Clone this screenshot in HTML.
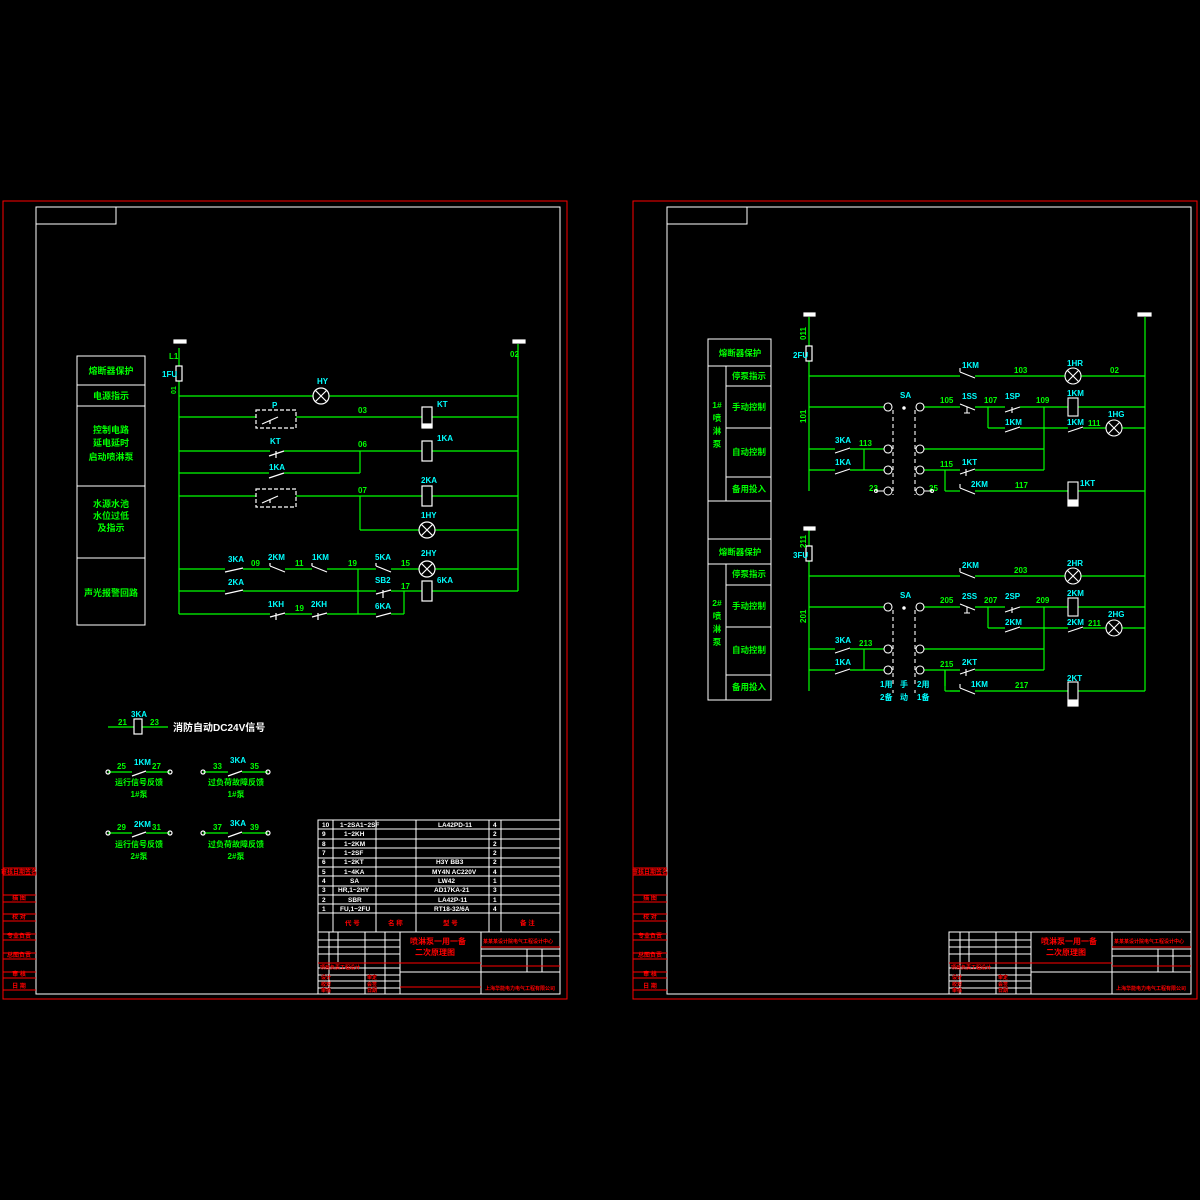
<!DOCTYPE html>
<html><head><meta charset="utf-8"><style>
html,body{margin:0;padding:0;background:#000;}
svg{display:block}
text{font-family:"Liberation Sans","Noto Sans CJK SC",sans-serif;font-weight:bold}
.g{fill:#00ff00}.c{fill:#00ffff}.w{fill:#fff}.r{fill:#ff0000}
</style></head><body>
<svg width="1200" height="1200" viewBox="0 0 1200 1200" xmlns="http://www.w3.org/2000/svg">
<rect width="1200" height="1200" fill="#000"/>
<!-- LEFT SHEET frames -->
<g fill="none" stroke-width="1">
<rect x="3" y="201" width="564" height="798" stroke="#f00"/>
<rect x="36" y="207" width="524" height="787" stroke="#fff"/>
<rect x="36" y="207" width="80" height="17" stroke="#fff"/>
<line x1="3" y1="868" x2="36" y2="868" stroke="#f00"/>
<line x1="3" y1="875" x2="36" y2="875" stroke="#f00"/>
<line x1="3" y1="895" x2="36" y2="895" stroke="#f00"/>
<line x1="3" y1="902" x2="36" y2="902" stroke="#f00"/>
<line x1="3" y1="914" x2="36" y2="914" stroke="#f00"/>
<line x1="3" y1="921" x2="36" y2="921" stroke="#f00"/>
<line x1="3" y1="934" x2="36" y2="934" stroke="#f00"/>
<line x1="3" y1="940" x2="36" y2="940" stroke="#f00"/>
<line x1="3" y1="953" x2="36" y2="953" stroke="#f00"/>
<line x1="3" y1="959" x2="36" y2="959" stroke="#f00"/>
<line x1="3" y1="972" x2="36" y2="972" stroke="#f00"/>
<line x1="3" y1="978" x2="36" y2="978" stroke="#f00"/>
<line x1="3" y1="990" x2="36" y2="990" stroke="#f00"/>
</g>
<g font-size="6" class="r" text-anchor="middle">
<text x="19" y="874">审核日期签名</text><text x="19" y="900">描 图</text><text x="19" y="919">校 对</text><text x="19" y="938">专业负责</text><text x="19" y="957">总图负责</text><text x="19" y="976">审 核</text><text x="19" y="988">日 期</text>
</g>

<!-- left function table -->
<g fill="none" stroke="#fff">
<rect x="77" y="356" width="68" height="269"/>
<line x1="77" y1="385" x2="145" y2="385"/><line x1="77" y1="406" x2="145" y2="406"/>
<line x1="77" y1="486" x2="145" y2="486"/><line x1="77" y1="558" x2="145" y2="558"/>
</g>
<g class="g" font-size="9" text-anchor="middle">
<text x="111" y="374">熔断器保护</text><text x="111" y="399">电源指示</text>
<text x="111" y="433">控制电路</text><text x="111" y="446">延电延时</text><text x="111" y="460">启动喷淋泵</text>
<text x="111" y="507">水源水池</text><text x="111" y="519">水位过低</text><text x="111" y="531">及指示</text>
<text x="111" y="596">声光报警回路</text>
</g>

<!-- left circuit -->
<g stroke="#00ff00" stroke-width="1.2" fill="none">
<line x1="179" y1="348" x2="179" y2="366"/><line x1="179" y1="381" x2="179" y2="614"/>
<line x1="518" y1="344" x2="518" y2="591"/>
<line x1="179" y1="396" x2="313" y2="396"/><line x1="329" y1="396" x2="518" y2="396"/>
<line x1="179" y1="417" x2="256" y2="417"/><line x1="296" y1="417" x2="422" y2="417"/><line x1="432" y1="417" x2="518" y2="417"/>
<line x1="179" y1="451" x2="270" y2="451"/><line x1="284" y1="451" x2="422" y2="451"/><line x1="432" y1="451" x2="518" y2="451"/>
<line x1="179" y1="473" x2="269" y2="473"/><line x1="284" y1="473" x2="360" y2="473"/><line x1="360" y1="451" x2="360" y2="473"/>
<line x1="179" y1="496" x2="256" y2="496"/><line x1="296" y1="496" x2="422" y2="496"/><line x1="432" y1="496" x2="518" y2="496"/>
<line x1="360" y1="496" x2="360" y2="530"/><line x1="360" y1="530" x2="419" y2="530"/><line x1="435" y1="530" x2="518" y2="530"/>
<line x1="179" y1="569" x2="225" y2="569"/><line x1="243" y1="569" x2="270" y2="569"/><line x1="285" y1="569" x2="312" y2="569"/><line x1="327" y1="569" x2="376" y2="569"/><line x1="391" y1="569" x2="419" y2="569"/><line x1="435" y1="569" x2="518" y2="569"/>
<line x1="179" y1="591" x2="225" y2="591"/><line x1="243" y1="591" x2="376" y2="591"/><line x1="391" y1="591" x2="422" y2="591"/><line x1="432" y1="591" x2="518" y2="591"/>
<line x1="179" y1="614" x2="270" y2="614"/><line x1="285" y1="614" x2="312" y2="614"/><line x1="327" y1="614" x2="376" y2="614"/><line x1="391" y1="614" x2="404" y2="614"/>
<line x1="404" y1="591" x2="404" y2="614"/><line x1="358" y1="569" x2="358" y2="614"/>
</g>
<g stroke="#fff" stroke-width="1.2" fill="none">
<rect x="174" y="340" width="12" height="3" fill="#fff"/>
<rect x="513" y="340" width="12" height="3" fill="#fff"/>
<rect x="176" y="366" width="6" height="15"/>
<circle cx="321" cy="396" r="8"/><path d="M315 390L327 402M327 390L315 402"/>
<circle cx="427" cy="530" r="8"/><path d="M421 524L433 536M433 524L421 536"/>
<circle cx="427" cy="569" r="8"/><path d="M421 563L433 575M433 563L421 575"/>
<rect x="256" y="410" width="40" height="18" stroke-dasharray="4,2"/>
<rect x="256" y="489" width="40" height="18" stroke-dasharray="4,2"/>
<path d="M262 424L278 417M270 424V420"/><path d="M262 503L278 496M270 503V499"/>
<rect x="422" y="407" width="10" height="20"/><rect x="422" y="424" width="10" height="4" fill="#fff"/>
<rect x="422" y="441" width="10" height="20"/>
<rect x="422" y="486" width="10" height="20"/>
<rect x="422" y="581" width="10" height="20"/>
<path d="M269 456L284 451M276 451V458"/>
<path d="M269 478L284 473"/>
<path d="M225 572L243 568"/><path d="M270 566L285 572M270 566V563"/><path d="M312 566L327 572M312 566V563"/><path d="M376 566L391 572M376 566V563"/>
<path d="M225 594L243 590"/><path d="M376 594L391 590M383 590V598"/>
<path d="M270 617L285 613M276 613V620"/><path d="M312 617L327 613M318 613V620"/><path d="M376 617L391 613"/>
</g>
<g class="g" font-size="8">
<text x="169" y="359">L1</text><text x="510" y="357">02</text>
<text x="358" y="413">03</text><text x="358" y="447">06</text><text x="358" y="493">07</text>
<text x="251" y="566">09</text><text x="295" y="566">11</text><text x="348" y="566">19</text><text x="401" y="566">15</text><text x="401" y="589">17</text><text x="295" y="611">19</text>
<text x="176" y="394" transform="rotate(-90 176 394)" font-size="7">01</text>
</g>
<g class="c" font-size="8">
<text x="162" y="377">1FU</text><text x="317" y="384">HY</text><text x="272" y="408">P</text><text x="437" y="407">KT</text>
<text x="270" y="444">KT</text><text x="269" y="470">1KA</text><text x="437" y="441">1KA</text><text x="421" y="483">2KA</text><text x="421" y="518">1HY</text>
<text x="228" y="562">3KA</text><text x="268" y="560">2KM</text><text x="312" y="560">1KM</text><text x="375" y="560">5KA</text><text x="421" y="556">2HY</text>
<text x="228" y="585">2KA</text><text x="375" y="583">SB2</text><text x="437" y="583">6KA</text>
<text x="268" y="607">1KH</text><text x="311" y="607">2KH</text><text x="375" y="609">6KA</text>
</g>

<!-- left bottom signals -->
<g stroke="#00ff00" stroke-width="1.2">
<line x1="108" y1="727" x2="134" y2="727"/><line x1="142" y1="727" x2="168" y2="727"/>
<line x1="108" y1="772" x2="132" y2="772"/><line x1="146" y1="772" x2="170" y2="772"/>
<line x1="203" y1="772" x2="228" y2="772"/><line x1="242" y1="772" x2="268" y2="772"/>
<line x1="108" y1="833" x2="132" y2="833"/><line x1="146" y1="833" x2="170" y2="833"/>
<line x1="203" y1="833" x2="228" y2="833"/><line x1="242" y1="833" x2="268" y2="833"/>
</g>
<g stroke="#fff" stroke-width="1.2" fill="none">
<rect x="134" y="719" width="8" height="15"/>
<path d="M132 776L146 771M228 776L242 771"/>
<path d="M132 837L146 832M228 837L242 832"/>
<circle cx="108" cy="772" r="2"/><circle cx="170" cy="772" r="2"/><circle cx="203" cy="772" r="2"/><circle cx="268" cy="772" r="2"/>
<circle cx="108" cy="833" r="2"/><circle cx="170" cy="833" r="2"/><circle cx="203" cy="833" r="2"/><circle cx="268" cy="833" r="2"/>
</g>
<g font-size="8">
<text x="131" y="717" class="c">3KA</text><text x="118" y="725" class="g">21</text><text x="150" y="725" class="g">23</text>
<text x="173" y="731" class="w" font-size="10">消防自动DC24V信号</text>
<text x="117" y="769" class="g">25</text><text x="134" y="765" class="c">1KM</text><text x="152" y="769" class="g">27</text>
<text x="213" y="769" class="g">33</text><text x="230" y="763" class="c">3KA</text><text x="250" y="769" class="g">35</text>
<text x="117" y="830" class="g">29</text><text x="134" y="827" class="c">2KM</text><text x="152" y="830" class="g">31</text>
<text x="213" y="830" class="g">37</text><text x="230" y="826" class="c">3KA</text><text x="250" y="830" class="g">39</text>
</g>
<g class="g" font-size="8" text-anchor="middle">
<text x="139" y="785">运行信号反馈</text><text x="139" y="797">1#泵</text>
<text x="236" y="785">过负荷故障反馈</text><text x="236" y="797">1#泵</text>
<text x="139" y="847">运行信号反馈</text><text x="139" y="859">2#泵</text>
<text x="236" y="847">过负荷故障反馈</text><text x="236" y="859">2#泵</text>
</g>

<!-- parts table left -->
<g>
<g fill="none" stroke="#fff">
<rect x="318" y="820" width="242" height="174"/>
<line x1="318" y1="829" x2="560" y2="829"/><line x1="318" y1="839" x2="560" y2="839"/><line x1="318" y1="848" x2="560" y2="848"/><line x1="318" y1="858" x2="560" y2="858"/><line x1="318" y1="867" x2="560" y2="867"/><line x1="318" y1="876" x2="560" y2="876"/><line x1="318" y1="886" x2="560" y2="886"/><line x1="318" y1="895" x2="560" y2="895"/><line x1="318" y1="904" x2="560" y2="904"/><line x1="318" y1="913" x2="560" y2="913"/><line x1="318" y1="932" x2="560" y2="932"/>
<line x1="333" y1="820" x2="333" y2="932"/><line x1="376" y1="820" x2="376" y2="932"/><line x1="416" y1="820" x2="416" y2="932"/><line x1="489" y1="820" x2="489" y2="932"/><line x1="501" y1="820" x2="501" y2="932"/>
<line x1="318" y1="940" x2="400" y2="940"/><line x1="318" y1="947" x2="400" y2="947"/><line x1="318" y1="954" x2="400" y2="954"/>
<line x1="318" y1="968" x2="400" y2="968"/><line x1="318" y1="975" x2="400" y2="975"/><line x1="318" y1="981" x2="400" y2="981"/><line x1="318" y1="988" x2="400" y2="988"/>
<line x1="329" y1="932" x2="329" y2="994"/><line x1="338" y1="932" x2="338" y2="962"/><line x1="365" y1="932" x2="365" y2="994"/><line x1="385" y1="932" x2="385" y2="994"/><line x1="400" y1="932" x2="400" y2="994"/>
<line x1="481" y1="932" x2="481" y2="994"/>
<line x1="400" y1="972" x2="481" y2="972"/><line x1="481" y1="972" x2="560" y2="972"/>
<line x1="481" y1="949" x2="560" y2="949"/><line x1="481" y1="956" x2="560" y2="956"/>
<line x1="527" y1="949" x2="527" y2="972"/><line x1="542" y1="949" x2="542" y2="972"/>
</g>
<g stroke="#f00" fill="none"><line x1="318" y1="963" x2="481" y2="963"/><line x1="400" y1="987" x2="481" y2="987"/><line x1="481" y1="947" x2="560" y2="947"/><line x1="481" y1="966" x2="560" y2="966"/></g>
<g class="w" font-size="6.5">
<text x="322" y="827">10</text><text x="340" y="827">1~2SA1~2SF</text><text x="438" y="827">LA42PD-11</text><text x="493" y="827">4</text>
<text x="322" y="836">9</text><text x="344" y="836">1~2KH</text><text x="493" y="836">2</text>
<text x="322" y="846">8</text><text x="344" y="846">1~2KM</text><text x="493" y="846">2</text>
<text x="322" y="855">7</text><text x="344" y="855">1~2SF</text><text x="493" y="855">2</text>
<text x="322" y="864">6</text><text x="344" y="864">1~2KT</text><text x="436" y="864">H3Y BB3</text><text x="493" y="864">2</text>
<text x="322" y="874">5</text><text x="344" y="874">1~4KA</text><text x="432" y="874">MY4N AC220V</text><text x="493" y="874">4</text>
<text x="322" y="883">4</text><text x="350" y="883">SA</text><text x="438" y="883">LW42</text><text x="493" y="883">1</text>
<text x="322" y="892">3</text><text x="338" y="892">HR,1~2HY</text><text x="434" y="892">AD17KA-21</text><text x="493" y="892">3</text>
<text x="322" y="902">2</text><text x="348" y="902">SBR</text><text x="438" y="902">LA42P-11</text><text x="493" y="902">1</text>
<text x="322" y="911">1</text><text x="340" y="911">FU,1~2FU</text><text x="434" y="911">RT18-32/6A</text><text x="493" y="911">4</text>
</g>
<g class="r" font-size="6.5">
<text x="345" y="925">代 号</text><text x="388" y="925">名 称</text><text x="443" y="925">型 号</text><text x="520" y="925">备 注</text>
<text x="410" y="944" font-size="8">喷淋泵一用一备</text><text x="415" y="955" font-size="8">二次原理图</text>
<text x="483" y="943" font-size="5">某某某设计院电气工程设计中心</text>
<text x="485" y="990" font-size="5">上海华能电力电气工程有限公司</text>
<text x="320" y="969" font-size="5">项目负责工程设计</text><text x="321" y="979" font-size="5">设计</text><text x="321" y="986" font-size="5">校对</text><text x="321" y="992" font-size="5">审核</text>
<text x="367" y="979" font-size="5">审定</text><text x="367" y="986" font-size="5">会签</text><text x="367" y="992" font-size="5">日期</text>
</g>
</g>

<!-- RIGHT SHEET frames -->
<g fill="none" stroke-width="1">
<rect x="633" y="201" width="564" height="798" stroke="#f00"/>
<rect x="667" y="207" width="524" height="787" stroke="#fff"/>
<rect x="667" y="207" width="80" height="17" stroke="#fff"/>
<line x1="633" y1="868" x2="667" y2="868" stroke="#f00"/>
<line x1="633" y1="875" x2="667" y2="875" stroke="#f00"/>
<line x1="633" y1="895" x2="667" y2="895" stroke="#f00"/>
<line x1="633" y1="902" x2="667" y2="902" stroke="#f00"/>
<line x1="633" y1="914" x2="667" y2="914" stroke="#f00"/>
<line x1="633" y1="921" x2="667" y2="921" stroke="#f00"/>
<line x1="633" y1="934" x2="667" y2="934" stroke="#f00"/>
<line x1="633" y1="940" x2="667" y2="940" stroke="#f00"/>
<line x1="633" y1="953" x2="667" y2="953" stroke="#f00"/>
<line x1="633" y1="959" x2="667" y2="959" stroke="#f00"/>
<line x1="633" y1="972" x2="667" y2="972" stroke="#f00"/>
<line x1="633" y1="978" x2="667" y2="978" stroke="#f00"/>
<line x1="633" y1="990" x2="667" y2="990" stroke="#f00"/>
</g>
<g font-size="6" class="r" text-anchor="middle">
<text x="650" y="874">审核日期签名</text><text x="650" y="900">描 图</text><text x="650" y="919">校 对</text><text x="650" y="938">专业负责</text><text x="650" y="957">总图负责</text><text x="650" y="976">审 核</text><text x="650" y="988">日 期</text>
</g>
<g transform="translate(631,0)">
<g fill="none" stroke="#fff">
<rect x="318" y="932" width="242" height="62"/>
<line x1="318" y1="940" x2="400" y2="940"/><line x1="318" y1="947" x2="400" y2="947"/><line x1="318" y1="954" x2="400" y2="954"/>
<line x1="318" y1="968" x2="400" y2="968"/><line x1="318" y1="975" x2="400" y2="975"/><line x1="318" y1="981" x2="400" y2="981"/><line x1="318" y1="988" x2="400" y2="988"/>
<line x1="329" y1="932" x2="329" y2="994"/><line x1="338" y1="932" x2="338" y2="962"/><line x1="365" y1="932" x2="365" y2="994"/><line x1="385" y1="932" x2="385" y2="994"/><line x1="400" y1="932" x2="400" y2="994"/>
<line x1="481" y1="932" x2="481" y2="994"/>
<line x1="400" y1="972" x2="560" y2="972"/>
<line x1="481" y1="949" x2="560" y2="949"/><line x1="481" y1="956" x2="560" y2="956"/>
<line x1="527" y1="949" x2="527" y2="972"/><line x1="542" y1="949" x2="542" y2="972"/>
</g>
<g stroke="#f00" fill="none"><line x1="318" y1="963" x2="481" y2="963"/><line x1="481" y1="947" x2="560" y2="947"/><line x1="481" y1="966" x2="560" y2="966"/></g>
<g class="r" font-size="6.5">
<text x="410" y="944" font-size="8">喷淋泵一用一备</text><text x="415" y="955" font-size="8">二次原理图</text>
<text x="483" y="943" font-size="5">某某某设计院电气工程设计中心</text>
<text x="485" y="990" font-size="5">上海华能电力电气工程有限公司</text>
<text x="320" y="969" font-size="5">项目负责工程设计</text><text x="321" y="979" font-size="5">设计</text><text x="321" y="986" font-size="5">校对</text><text x="321" y="992" font-size="5">审核</text>
<text x="367" y="979" font-size="5">审定</text><text x="367" y="986" font-size="5">会签</text><text x="367" y="992" font-size="5">日期</text>
</g>
</g>

<!-- right function table -->
<g fill="none" stroke="#fff">
<rect x="708" y="339" width="63" height="361"/>
<line x1="726" y1="366" x2="726" y2="501"/><line x1="726" y1="564" x2="726" y2="700"/>
<line x1="708" y1="366" x2="771" y2="366"/><line x1="726" y1="386" x2="771" y2="386"/><line x1="726" y1="428" x2="771" y2="428"/><line x1="726" y1="477" x2="771" y2="477"/>
<line x1="708" y1="501" x2="771" y2="501"/><line x1="708" y1="539" x2="771" y2="539"/><line x1="708" y1="564" x2="771" y2="564"/>
<line x1="726" y1="585" x2="771" y2="585"/><line x1="726" y1="627" x2="771" y2="627"/><line x1="726" y1="675" x2="771" y2="675"/>
</g>
<g class="g" font-size="8.5" text-anchor="middle">
<text x="740" y="356">熔断器保护</text><text x="749" y="379">停泵指示</text><text x="749" y="410">手动控制</text><text x="749" y="455">自动控制</text><text x="749" y="492">备用投入</text>
<text x="740" y="555">熔断器保护</text><text x="749" y="577">停泵指示</text><text x="749" y="609">手动控制</text><text x="749" y="653">自动控制</text><text x="749" y="690">备用投入</text>
<text x="717" y="408">1#</text><text x="717" y="421">喷</text><text x="717" y="434">淋</text><text x="717" y="447">泵</text>
<text x="717" y="606">2#</text><text x="717" y="619">喷</text><text x="717" y="632">淋</text><text x="717" y="645">泵</text>
</g>

<!-- right circuit -->
<g stroke="#00ff00" stroke-width="1.2" fill="none">
<line x1="1145" y1="317" x2="1145" y2="691"/>
<line x1="809" y1="317" x2="809" y2="346"/><line x1="809" y1="361" x2="809" y2="491"/>
<line x1="809" y1="530" x2="809" y2="546"/><line x1="809" y1="561" x2="809" y2="691"/>
</g>
<g stroke="#fff" stroke-width="1.2" fill="none">
<rect x="804" y="313" width="11" height="3" fill="#fff"/><rect x="1138" y="313" width="13" height="3" fill="#fff"/>
<rect x="804" y="527" width="11" height="3" fill="#fff"/>
<rect x="806" y="346" width="6" height="15"/><rect x="806" y="546" width="6" height="15"/>
</g>
<g class="g" font-size="8">
<text x="806" y="340" transform="rotate(-90 806 340)">011</text><text x="806" y="423" transform="rotate(-90 806 423)">101</text>
<text x="806" y="548" transform="rotate(-90 806 548)">211</text><text x="806" y="623" transform="rotate(-90 806 623)">201</text>
</g>
<g class="c" font-size="8"><text x="793" y="358">2FU</text><text x="793" y="558">3FU</text></g>

<g id="blk">
<g stroke="#00ff00" stroke-width="1.2" fill="none">
<line x1="809" y1="376" x2="960" y2="376"/><line x1="975" y1="376" x2="1065" y2="376"/><line x1="1081" y1="376" x2="1145" y2="376"/>
<line x1="809" y1="407" x2="884" y2="407"/><line x1="924" y1="407" x2="960" y2="407"/><line x1="975" y1="407" x2="1005" y2="407"/><line x1="1020" y1="407" x2="1068" y2="407"/><line x1="1078" y1="407" x2="1145" y2="407"/>
<line x1="988" y1="407" x2="988" y2="428"/><line x1="988" y1="428" x2="1005" y2="428"/><line x1="1020" y1="428" x2="1068" y2="428"/><line x1="1083" y1="428" x2="1106" y2="428"/><line x1="1122" y1="428" x2="1145" y2="428"/>
<line x1="1044" y1="407" x2="1044" y2="470"/>
<line x1="809" y1="449" x2="835" y2="449"/><line x1="850" y1="449" x2="884" y2="449"/><line x1="924" y1="449" x2="1044" y2="449"/>
<line x1="809" y1="470" x2="835" y2="470"/><line x1="850" y1="470" x2="884" y2="470"/><line x1="924" y1="470" x2="960" y2="470"/><line x1="975" y1="470" x2="1044" y2="470"/>
<line x1="864" y1="449" x2="864" y2="470"/>
<line x1="945" y1="470" x2="945" y2="491"/><line x1="945" y1="491" x2="960" y2="491"/><line x1="975" y1="491" x2="1068" y2="491"/><line x1="1078" y1="491" x2="1145" y2="491"/>
</g>
<g stroke="#fff" stroke-width="1.1" fill="none">
<path d="M960 372L975 378M960 372V368"/>
<path d="M960 404L975 410M967 407V413M964 413H970"/>
<path d="M1005 412L1020 407M1012 407V413"/>
<path d="M1005 432L1020 427M1068 432L1083 427"/>
<circle cx="1073" cy="376" r="8"/><path d="M1067 370L1079 382M1079 370L1067 382"/>
<circle cx="1114" cy="428" r="8"/><path d="M1108 422L1120 434M1120 422L1108 434"/>
<rect x="1068" y="398" width="10" height="18"/>
<rect x="1068" y="482" width="10" height="24"/><rect x="1068" y="500" width="10" height="6" fill="#fff"/>
<path d="M835 453L850 448M835 474L850 469"/>
<path d="M960 474L975 469M966 469V476"/>
<path d="M960 488L975 494M960 488V484"/>
<circle cx="888" cy="407" r="4"/><circle cx="920" cy="407" r="4"/>
<circle cx="888" cy="449" r="4"/><circle cx="920" cy="449" r="4"/>
<circle cx="888" cy="470" r="4"/><circle cx="920" cy="470" r="4"/>
<line x1="893" y1="410" x2="893" y2="495" stroke-dasharray="4,3"/><line x1="915" y1="410" x2="915" y2="495" stroke-dasharray="4,3"/>
<circle cx="904" cy="408" r="1.2" fill="#fff"/>
</g>
</g>
<g class="g" font-size="8">
<text x="1014" y="373">103</text><text x="940" y="403">105</text><text x="984" y="403">107</text><text x="1036" y="403">109</text>
<text x="1088" y="426">111</text><text x="859" y="446">113</text><text x="940" y="467">115</text><text x="1015" y="488">117</text>
<text x="1014" y="573">203</text><text x="940" y="603">205</text><text x="984" y="603">207</text><text x="1036" y="603">209</text>
<text x="1088" y="626">211</text><text x="859" y="646">213</text><text x="940" y="667">215</text><text x="1015" y="688">217</text>
</g>
<g class="c" font-size="8">
<text x="962" y="368">1KM</text><text x="1067" y="366">1HR</text><text x="900" y="398">SA</text><text x="962" y="399">1SS</text><text x="1005" y="399">1SP</text><text x="1067" y="396">1KM</text>
<text x="1005" y="425">1KM</text><text x="1067" y="425">1KM</text><text x="1108" y="417">1HG</text>
<text x="835" y="443">3KA</text><text x="835" y="465">1KA</text><text x="962" y="465">1KT</text><text x="971" y="487">2KM</text><text x="1080" y="486">1KT</text>
</g>
<g class="g" font-size="8"><text x="1110" y="373">02</text><text x="869" y="491">23</text><text x="929" y="491">25</text></g>
<g stroke="#fff" fill="none"><circle cx="888" cy="491" r="4"/><circle cx="920" cy="491" r="4"/><circle cx="876" cy="491" r="1.5"/><circle cx="932" cy="491" r="1.5"/><line x1="876" y1="491" x2="884" y2="491"/><line x1="924" y1="491" x2="932" y2="491"/></g>

<g transform="translate(0,200)">
<use href="#blk"/>
</g>
<rect x="860" y="686" width="90" height="10" fill="#000"/>
<g stroke="#00ff00" stroke-width="1.2"><line x1="945" y1="670" x2="945" y2="691"/><line x1="945" y1="691" x2="960" y2="691"/></g>
<g stroke="#fff" fill="none" stroke-width="1.1"><line x1="893" y1="690" x2="893" y2="693" stroke-dasharray="4,3"/><line x1="915" y1="690" x2="915" y2="693" stroke-dasharray="4,3"/></g>
<g class="c" font-size="8">
<text x="962" y="568">2KM</text><text x="1067" y="566">2HR</text><text x="900" y="598">SA</text><text x="962" y="599">2SS</text><text x="1005" y="599">2SP</text><text x="1067" y="596">2KM</text>
<text x="1005" y="625">2KM</text><text x="1067" y="625">2KM</text><text x="1108" y="617">2HG</text>
<text x="835" y="643">3KA</text><text x="835" y="665">1KA</text><text x="962" y="665">2KT</text><text x="971" y="687">1KM</text><text x="1067" y="681">2KT</text>
<text x="880" y="687">1用</text><text x="880" y="700">2备</text><text x="900" y="687">手</text><text x="900" y="700">动</text><text x="917" y="687">2用</text><text x="917" y="700">1备</text>
</g>
</svg>
</body></html>
